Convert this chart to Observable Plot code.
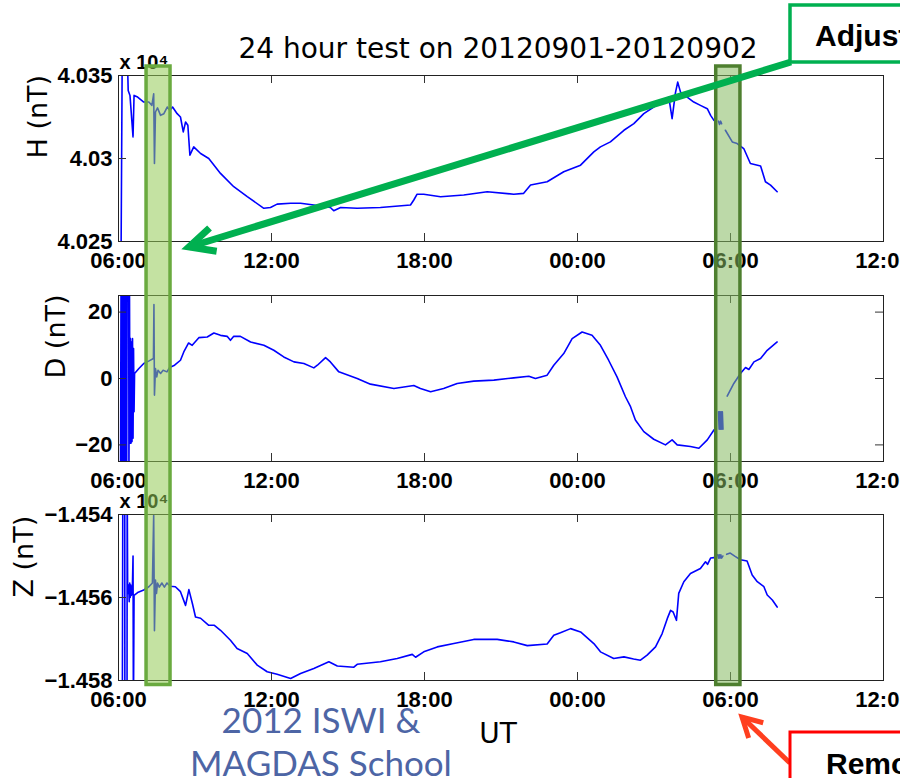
<!DOCTYPE html>
<html><head><meta charset="utf-8">
<script src="https://cdn.jsdelivr.net/npm/d3@7"></script>
<script src="https://cdn.jsdelivr.net/npm/@observablehq/plot@0.6"></script>
<style>
html,body{margin:0;padding:0;background:#fff;}
#wrap{position:relative;width:900px;height:778px;overflow:hidden;background:#fff;}
#overlay{position:absolute;left:0;top:0;pointer-events:none;}
</style></head><body><div id="wrap"></div>
<script>
// ---- data: [hours since 2012-09-01 06:00 UT, value in nT]; NaN = data gap ----
const xTickHours = [0, 6, 12, 18, 24, 30];
const hTicks = [40250, 40300, 40350];
const dTicks = [-20, 0, 20];
const zTicks = [-14580, -14560, -14540];

const H_series = [
[0.10,40240],[0.145,40360],[0.35,40360],[0.38,40341],[0.45,40338],[0.57,40313],[0.61,40338],[0.75,40337],[0.99,40334],[1.19,40334],
[1.31,40332],[1.38,40339],[1.41,40297],[1.45,40328],[1.53,40330.5],[1.65,40326],[1.78,40327],[1.91,40331],[2.01,40329],[2.12,40331],
[2.30,40327],[2.43,40325],[2.54,40316],[2.63,40322],[2.72,40320],[2.80,40302],[2.95,40307],[3.22,40303],[3.54,40300],[4.00,40291],
[4.52,40283],[5.05,40277],[5.70,40270],[5.96,40270.5],[6.22,40272.5],[6.75,40273],[7.14,40273],[7.66,40272],[8.31,40270.5],[8.44,40268.5],
[8.71,40270.5],[9.36,40270],[10.27,40270.5],[11.45,40272],[11.58,40275],[11.71,40278.5],[11.97,40278.5],[12.63,40277],[13.54,40278],[14.46,40280],
[15.50,40278.5],[15.89,40279],[16.16,40284],[16.81,40286],[17.46,40292],[18.12,40296],[18.64,40304],[18.90,40307],[19.29,40310],[19.82,40317],
[20.21,40321],[20.60,40327],[20.99,40331],[21.38,40335],[21.58,40337],[21.71,40324],[21.84,40339.5],[21.93,40346],[22.04,40340],[22.30,40337],
[22.56,40334],[22.82,40332],[23.09,40330],[23.22,40326],[23.35,40323],[23.45,NaN],[23.53,40322.5],[23.57,40320.5],[23.61,40322.5],[23.65,40321],
[23.75,NaN],[23.80,40317],[24.07,40310],[24.26,40309],[24.52,40306],[24.78,40297],[25.18,40295.5],[25.37,40286],[25.57,40284],[25.83,40280]
];

const D_series = [
[0.08,-30],[0.10,30],[0.12,-30],[0.14,30],[0.16,-30],[0.18,30],[0.20,-30],[0.22,30],[0.24,-30],[0.26,30],[0.28,-30],[0.30,30],[0.32,-30],[0.34,30],
[0.36,30],[0.40,30],[0.41,-30],[0.43,30],[0.45,-19.5],[0.47,12],[0.49,-19.5],[0.51,11],[0.53,-19],[0.55,12],[0.57,-18],[0.59,9],[0.61,-10],[0.63,1.5],
[0.80,3],[0.99,4.5],[1.20,5.3],[1.37,6],[1.39,22.3],[1.41,-5],[1.45,3],[1.50,0.5],[1.55,2.5],[1.65,1.5],[1.75,2.5],[1.90,2],[2.00,3.3],[2.20,4],
[2.43,5.5],[2.56,8],[2.75,10.7],[2.89,10],[3.15,12.3],[3.48,12.5],[3.74,13.7],[4.00,13],[4.26,12.7],[4.39,11.5],[4.52,12.7],[4.78,12.7],[5.18,11],
[5.70,10],[6.09,8.5],[6.48,6.5],[6.88,5],[7.27,4.5],[7.66,3.2],[7.80,4],[8.12,6.3],[8.31,5],[8.64,2],[9.36,0],[9.88,-1.7],[10.80,-3],[11.58,-2.1],
[11.84,-3],[12.24,-4],[12.75,-3],[13.28,-1.5],[13.93,-0.8],[14.72,-0.5],[15.50,0.2],[16.09,0.7],[16.35,0],[16.81,1],[17.07,4],[17.46,7.5],[17.79,12],
[18.18,14],[18.57,13],[18.90,10],[19.22,5.5],[19.55,0.5],[19.88,-5.5],[20.08,-8.5],[20.27,-12.5],[20.60,-16],[20.99,-18.3],[21.45,-20],[21.71,-18.5],
[21.91,-20],[22.43,-20.5],[22.76,-21],[23.09,-18.5],[23.35,-15.5],[23.45,NaN],[23.53,-10],[23.555,-15.3],[23.58,-10],[23.605,-15.3],[23.63,-10],
[23.655,-15.3],[23.68,-10],[23.705,-15.3],[23.80,NaN],[23.87,-5.3],[24.13,-1.5],[24.39,1.5],[24.59,3.3],[24.72,2.7],[24.92,5],[25.18,6],[25.44,8.5],[25.83,11]
];

const Z_series = [
[0.15,-14590],[0.17,-14530],[0.245,-14530],[0.25,-14590],[0.335,-14590],[0.34,-14530],[0.36,-14559],[0.40,-14557],[0.42,-14561],[0.44,-14556.5],
[0.46,-14560],[0.48,-14557],[0.50,-14559.5],[0.54,-14559],[0.57,-14550],[0.585,-14590],[0.61,-14559.5],[0.75,-14558.8],[0.99,-14558.2],[1.19,-14557.4],
[1.33,-14556.5],[1.38,-14540.2],[1.41,-14568],[1.45,-14555.8],[1.49,-14559],[1.53,-14556.5],[1.60,-14557.5],[1.70,-14556.5],[1.80,-14557.5],[1.90,-14556.5],
[2.03,-14557.3],[2.23,-14557.4],[2.43,-14558.6],[2.63,-14561.9],[2.76,-14558.1],[2.90,-14561.5],[3.02,-14564.7],[3.22,-14565],[3.54,-14566.7],[3.76,-14566.7],
[4.00,-14567.9],[4.39,-14570.3],[4.65,-14572.3],[5.05,-14573.5],[5.44,-14576.3],[5.83,-14577.9],[6.22,-14578.5],[6.75,-14579.5],[7.14,-14578.3],[7.66,-14577.1],
[8.25,-14575.5],[8.58,-14576.5],[9.23,-14576.8],[9.36,-14576.1],[10.27,-14575.5],[10.93,-14574.7],[11.52,-14573.7],[11.65,-14574.4],[11.97,-14573.1],[12.50,-14571.9],
[13.15,-14571.1],[13.93,-14570.1],[14.85,-14570.1],[15.50,-14570.7],[16.03,-14571.6],[16.81,-14571.2],[17.07,-14569.1],[17.33,-14568.5],[17.73,-14567.5],[18.12,-14568.3],
[18.64,-14571.1],[18.90,-14573.1],[19.42,-14574.7],[19.82,-14574.3],[20.20,-14574.8],[20.47,-14575.1],[20.73,-14573.9],[21.06,-14571.9],[21.32,-14568.7],[21.52,-14565.1],
[21.65,-14563.1],[21.75,-14563.5],[21.88,-14565.5],[21.97,-14559],[22.17,-14556.2],[22.43,-14554.2],[22.82,-14553],[23.02,-14551.4],[23.10,-14552],[23.22,-14550.5],
[23.35,-14550.4],[23.45,NaN],[23.50,-14549.7],[23.53,-14550.5],[23.56,-14549.7],[23.59,-14550.5],[23.62,-14549.7],[23.65,-14550.5],[23.70,-14550],[23.78,NaN],
[23.85,-14549.6],[23.99,-14549.3],[24.18,-14550.1],[24.39,-14550.9],[24.65,-14551.2],[24.85,-14554.6],[25.05,-14556.2],[25.31,-14557.4],[25.44,-14559.4],[25.64,-14560.6],
[25.83,-14562.3]
];

// highlighted intervals (hours since 06:00 UT, 2012-09-01)
const highlightStart = [1.10, 23.44];
const highlightEnd   = [2.04, 24.39];

// ---- helpers ----
const BASE = Date.UTC(2012, 8, 1, 6, 0);
const toDate = h => new Date(BASE + h * 3600e3);
const xTicks = xTickHours.map(toDate);
const sciFmt = d => String(+(d / 1e4).toFixed(3)).replace("-", "\u2212");
const intFmt = d => String(d).replace("-", "\u2212");

const wrap = document.getElementById("wrap");
const FH = 166, FW = 765;

function panel(cfg) {
  const data = cfg.series.map(([h, v]) => ({time: toDate(h), value: v}));
  const svg = Plot.plot({
    width: 900, height: cfg.height,
    marginLeft: 118, marginRight: 17, marginTop: cfg.mTop, marginBottom: cfg.mBottom,
    x: {type: "utc", domain: [toDate(0), toDate(30)]},
    y: {type: "linear", domain: cfg.domain},
    style: {fontFamily: "'Liberation Sans', Arial, sans-serif", fontSize: "22px", fontWeight: "bold",
            color: "#000", background: "transparent", overflow: "visible"},
    marks: [
      Plot.line(data, {x: "time", y: "value", stroke: "#0000ff", strokeWidth: 1.6, clip: true}),
      Plot.ruleX(xTicks, {insetTop: FH - 8, stroke: "#333"}),
      Plot.ruleX(xTicks, {insetBottom: FH - 8, stroke: "#333"}),
      Plot.ruleY(cfg.ticks, {insetRight: FW - 8, stroke: "#333"}),
      Plot.ruleY(cfg.ticks, {insetLeft: FW - 8, stroke: "#333"}),
      Plot.frame({stroke: "#222"}),
      Plot.axisX(xTicks, {tickSize: 0, tickPadding: 11, tickFormat: d3.utcFormat("%H:%M"), label: null,
                          fontSize: 22, fontWeight: "bold", fill: "#000"}),
      Plot.axisY(cfg.ticks, {tickSize: 0, tickPadding: 6, tickFormat: cfg.fmt, label: null,
                             fontSize: 22, fontWeight: "bold", fill: "#000"}),
      Plot.text([cfg.label], {frameAnchor: "left", dx: -cfg.labelDx, rotate: -90, fontSize: 27,
                              fontFamily: "'DejaVu Sans', sans-serif", fontWeight: "normal", fill: "#000"}),
      cfg.sci ? Plot.text(["x 10\u2074"], {frameAnchor: "top-left", dx: 1, dy: -7, textAnchor: "start",
                              lineAnchor: "bottom", fontSize: 20, fontWeight: "bold", fill: "#000"}) : null
    ]
  });
  svg.style.position = "absolute";
  svg.style.left = "0px";
  svg.style.top = cfg.top + "px";
  wrap.appendChild(svg);
  return svg;
}

const svgH = panel({series: H_series, domain: [40250, 40350], ticks: hTicks, fmt: sciFmt, label: "H (nT)",
  labelDx: 80.5, sci: true, top: 0, mTop: 75, mBottom: 35, height: 276});
panel({series: D_series, domain: [-25, 25], ticks: dTicks, fmt: intFmt, label: "D (nT)",
  labelDx: 62.5, sci: false, top: 276, mTop: 19, mBottom: 35, height: 220});
panel({series: Z_series, domain: [-14580, -14540], ticks: zTicks, fmt: sciFmt, label: "Z (nT)",
  labelDx: 94.5, sci: true, top: 496, mTop: 18, mBottom: 98, height: 282});

// ---- overlay: highlight bands, callouts, title ----
const xs = svgH.scale("x");
const ov = d3.select(wrap).append("svg").attr("id", "overlay").attr("width", 900).attr("height", 778);
const bandFill = ["#94ca56", "#85ba61"];
const bandStroke = ["#6aaa3f", "#4e7f2f"];
highlightStart.forEach((s, i) => {
  const x0 = xs.apply(toDate(s)), x1 = xs.apply(toDate(highlightEnd[i]));
  ov.append("rect").attr("x", x0).attr("y", 66).attr("width", x1 - x0).attr("height", 618.5)
    .attr("fill", bandFill[i]).attr("fill-opacity", 0.55)
    .attr("stroke", bandStroke[i]).attr("stroke-width", 3.5);
});

function arrow(sx, sy, tx, ty, color, w, L, ang) {
  ov.append("line").attr("x1", sx).attr("y1", sy).attr("x2", tx).attr("y2", ty)
    .attr("stroke", color).attr("stroke-width", w);
  const a = Math.atan2(sy - ty, sx - tx);
  const p1 = [tx + L * Math.cos(a + ang), ty + L * Math.sin(a + ang)];
  const p2 = [tx + L * Math.cos(a - ang), ty + L * Math.sin(a - ang)];
  ov.append("polyline").attr("points", [p1, [tx, ty], p2].map(p => p.join(",")).join(" "))
    .attr("fill", "none").attr("stroke", color).attr("stroke-width", w).attr("stroke-linejoin", "miter");
}

arrow(791, 62, 189, 247, "#00b050", 7, 28, 0.45);
ov.append("rect").attr("x", 790).attr("y", 5).attr("width", 140).attr("height", 57)
  .attr("fill", "#fff").attr("stroke", "#00b050").attr("stroke-width", 3.5);
ov.append("text").attr("x", 815).attr("y", 46).attr("font-family", "'Liberation Sans', Arial, sans-serif")
  .attr("font-weight", "bold").attr("font-size", 30).attr("fill", "#000").text("Adjust");

arrow(790, 763, 742, 717, "#ff3f1f", 5, 22, 0.5);
ov.append("rect").attr("x", 790).attr("y", 732).attr("width", 140).attr("height", 70)
  .attr("fill", "#fff").attr("stroke", "#ff0000").attr("stroke-width", 3);
ov.append("text").attr("x", 826).attr("y", 774).attr("font-family", "'Liberation Sans', Arial, sans-serif")
  .attr("font-weight", "bold").attr("font-size", 30).attr("fill", "#000").text("Remove");

ov.append("text").attr("x", 498).attr("y", 58).attr("text-anchor", "middle")
  .attr("font-family", "'DejaVu Sans', sans-serif").attr("font-size", 28).attr("fill", "#000")
  .text("24 hour test on 20120901-20120902");
ov.append("text").attr("x", 498).attr("y", 743).attr("text-anchor", "middle")
  .attr("font-family", "'DejaVu Sans', sans-serif").attr("font-size", 28).attr("fill", "#000").text("UT");
ov.append("text").attr("x", 321).attr("y", 733).attr("text-anchor", "middle")
  .attr("font-family", "Lato, 'Open Sans', sans-serif").attr("font-size", 35).attr("fill", "#4d65a5").text("2012 ISWI &");
ov.append("text").attr("x", 321).attr("y", 776).attr("text-anchor", "middle")
  .attr("font-family", "Lato, 'Open Sans', sans-serif").attr("font-size", 35).attr("fill", "#4d65a5").text("MAGDAS School");
</script></body></html>
